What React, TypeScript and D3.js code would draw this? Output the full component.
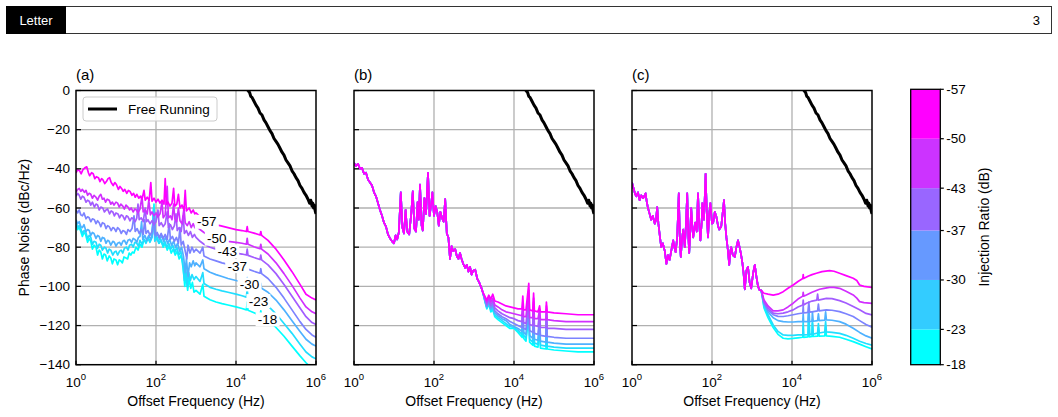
import * as d3 from 'd3';

// injection ratios (dB), drawn in this order so -57 ends on top
const ratios = [-18, -23, -30, -37, -43, -50, -57];
const cbarTicks = [-57, -50, -43, -37, -30, -23, -18];
const cbarBands = ['#00ffff', '#33ccff', '#6699ff', '#9966ff', '#cc33ff', '#ff00ff'];
const xTickExps = [0, 2, 4, 6];
const yTicks = [0, -20, -40, -60, -80, -100, -120, -140];
const yGrid = [-20, -40, -60, -80, -100, -120];
const xGridExps = [2, 4];
const panelTitles = ['(a)', '(b)', '(c)'];
// where the ratio labels sit on the (a) curves, log10(Hz)
const labelExps = [4.79, 4.56, 4.34, 4.03, 3.78, 3.52, 3.27];

// [log10(f), dBc/Hz]
const freeRunning = [[4.28,1.5],[4.3,0],[4.34,-1],[4.37,-3],[4.4,-3.5],[4.45,-5.5],[4.5,-7.5],[4.55,-9],[4.6,-11.5],[4.65,-12.5],[4.7,-15],[4.75,-16.5],[4.8,-18.5],[4.85,-20.5],[4.9,-22],[4.95,-24.5],[5.0,-26],[5.05,-27.5],[5.1,-29.5],[5.15,-31.5],[5.2,-33],[5.25,-35.5],[5.3,-37],[5.35,-38.5],[5.4,-41],[5.45,-42.5],[5.5,-44.5],[5.55,-46],[5.6,-48.5],[5.65,-50],[5.7,-52],[5.75,-53.5],[5.8,-55.5],[5.84,-57.5],[5.87,-56],[5.9,-59],[5.92,-57.5],[5.94,-60],[5.96,-58.5],[5.98,-61.5],[6.0,-63]];

// panel (a)
const a57 = [[0,-42],[0.04,-40.5],[0.09,-41],[0.13,-42.5],[0.17,-40.5],[0.22,-39.5],[0.27,-39],[0.31,-42],[0.34,-43.5],[0.39,-42],[0.43,-42.5],[0.47,-45],[0.51,-44],[0.56,-44.5],[0.6,-46.5],[0.64,-45],[0.67,-45.5],[0.72,-47.5],[0.76,-46.5],[0.8,-45],[0.84,-44.5],[0.88,-47],[0.93,-48.5],[0.97,-47],[1.01,-48],[1.06,-50.5],[1.1,-49],[1.14,-50],[1.18,-51.5],[1.22,-50.5],[1.27,-52.5],[1.31,-51],[1.35,-51.5],[1.4,-53.5],[1.44,-52.5],[1.48,-54.5],[1.52,-53],[1.57,-55],[1.61,-54],[1.65,-55.5],[1.7,-51],[1.73,-56],[1.78,-54.5],[1.83,-56],[1.87,-47],[1.9,-56.5],[1.95,-55],[2.0,-57],[2.05,-55.5],[2.1,-57.5],[2.15,-56],[2.2,-58],[2.23,-45],[2.26,-58],[2.3,-57],[2.35,-59],[2.4,-57.5],[2.44,-50],[2.47,-59],[2.52,-58],[2.56,-53],[2.6,-60],[2.65,-58.5],[2.7,-61],[2.73,-51],[2.76,-61.5],[2.83,-60],[2.88,-62.5],[2.93,-61],[2.97,-63],[3.0,-62.5],[3.1,-64.5],[3.2,-66],[3.3,-67.5],[3.45,-68.5],[3.6,-69],[3.8,-70],[4.0,-71],[4.15,-71.5],[4.26,-72],[4.28,-69.5],[4.3,-72],[4.45,-72.8],[4.6,-73.8],[4.62,-72],[4.64,-74],[4.8,-76.5],[5.0,-81],[5.2,-86.5],[5.4,-92.5],[5.6,-99],[5.75,-104],[5.9,-106],[6.0,-107]];
const a50 = [[0,-52],[0.04,-50.5],[0.08,-50],[0.12,-51.5],[0.16,-50.5],[0.21,-52],[0.25,-51],[0.29,-53.5],[0.33,-52.5],[0.37,-53],[0.41,-55],[0.45,-53.5],[0.5,-54.5],[0.54,-56],[0.58,-54],[0.62,-53],[0.66,-55.5],[0.7,-55],[0.74,-57],[0.78,-55.5],[0.83,-56],[0.87,-58],[0.91,-57],[0.95,-58.5],[1.0,-57],[1.04,-57.5],[1.08,-59.5],[1.12,-58],[1.17,-59],[1.21,-60.5],[1.25,-58.5],[1.3,-59.5],[1.34,-61],[1.38,-60],[1.43,-62],[1.47,-60.5],[1.51,-61],[1.55,-62.5],[1.6,-60.5],[1.65,-54],[1.68,-62],[1.73,-61],[1.78,-63],[1.82,-56],[1.86,-63.5],[1.9,-62],[1.95,-64],[2.0,-62.5],[2.05,-64.5],[2.1,-63],[2.15,-57],[2.18,-65],[2.23,-63.5],[2.28,-49],[2.31,-65],[2.36,-64],[2.4,-66],[2.44,-58],[2.47,-65.5],[2.52,-67],[2.56,-60],[2.6,-66.5],[2.65,-68],[2.7,-60],[2.73,-67.5],[2.78,-69],[2.83,-67],[2.88,-70],[2.93,-68],[2.97,-70],[3.0,-69],[3.1,-71],[3.2,-72.5],[3.35,-74.5],[3.5,-75.5],[3.65,-76.5],[3.8,-77],[4.0,-77.5],[4.15,-78],[4.26,-78.5],[4.28,-75.5],[4.3,-78.5],[4.45,-79.8],[4.6,-80.8],[4.62,-78.5],[4.64,-81],[4.8,-83.5],[5.0,-88],[5.2,-93.5],[5.4,-99.5],[5.6,-106],[5.75,-110.5],[5.9,-113],[6.0,-114]];
const a43 = [[0,-54],[0.04,-52.5],[0.08,-53.5],[0.12,-55.5],[0.16,-54],[0.2,-54.5],[0.25,-57],[0.29,-56],[0.33,-56.5],[0.37,-58.5],[0.41,-57],[0.46,-59.5],[0.5,-58],[0.54,-58.5],[0.58,-61],[0.62,-59.5],[0.67,-60],[0.71,-62],[0.75,-61],[0.79,-60.5],[0.84,-63],[0.88,-61.5],[0.92,-62],[0.96,-64],[1.0,-62.5],[1.05,-63],[1.09,-65],[1.13,-63.5],[1.17,-64],[1.22,-66],[1.26,-64],[1.3,-64.5],[1.35,-66.5],[1.39,-65],[1.43,-65.5],[1.48,-67],[1.52,-65],[1.55,-58],[1.58,-66],[1.63,-65],[1.68,-67],[1.73,-60],[1.76,-67],[1.8,-66],[1.85,-68],[1.9,-66.5],[1.95,-68.5],[2.0,-67],[2.05,-61],[2.08,-69],[2.13,-67.5],[2.18,-69.5],[2.23,-68],[2.28,-62],[2.31,-70],[2.36,-68.5],[2.41,-71],[2.46,-69],[2.5,-63],[2.53,-71.5],[2.58,-70],[2.63,-72],[2.68,-64],[2.71,-73],[2.76,-71.5],[2.81,-74],[2.86,-72],[2.91,-75],[2.96,-73.5],[3.0,-75],[3.1,-77],[3.2,-78.5],[3.35,-80],[3.5,-81],[3.65,-81.5],[3.8,-82.2],[4.0,-83],[4.15,-83.5],[4.26,-84],[4.28,-81],[4.3,-84.2],[4.45,-85.3],[4.6,-86.3],[4.62,-84],[4.64,-86.5],[4.8,-89],[5.0,-93.5],[5.2,-99],[5.4,-105],[5.6,-111],[5.75,-115.5],[5.9,-118.5],[6.0,-119.5]];
const a37 = [[0,-61],[0.04,-62.5],[0.08,-61],[0.12,-63.5],[0.16,-64],[0.2,-62.5],[0.25,-65.5],[0.29,-64.5],[0.33,-65],[0.37,-67],[0.41,-65.5],[0.46,-66],[0.5,-68],[0.54,-66.5],[0.58,-67.5],[0.62,-69.5],[0.66,-67.5],[0.71,-68],[0.75,-70.5],[0.79,-69],[0.83,-69.5],[0.88,-71.5],[0.92,-70],[0.96,-70.5],[1.0,-72],[1.04,-70],[1.09,-71],[1.13,-73],[1.17,-71.5],[1.22,-72],[1.26,-73.5],[1.3,-71],[1.35,-72],[1.4,-70.5],[1.45,-64],[1.48,-72],[1.53,-70.5],[1.58,-73],[1.63,-71],[1.68,-73.5],[1.72,-66],[1.75,-73],[1.8,-71.5],[1.85,-74],[1.9,-72],[1.95,-65],[1.98,-74],[2.03,-72.5],[2.08,-75],[2.13,-73],[2.18,-75.5],[2.23,-73.5],[2.28,-76],[2.33,-68],[2.36,-76],[2.41,-74.5],[2.46,-77],[2.51,-75],[2.56,-78],[2.6,-70],[2.63,-79],[2.68,-77],[2.73,-82],[2.77,-86],[2.8,-79],[2.85,-83],[2.9,-80],[2.95,-82.5],[3.0,-81],[3.1,-83],[3.17,-80],[3.2,-84.5],[3.35,-86],[3.5,-87],[3.65,-88],[3.8,-88.8],[4.0,-89.5],[4.15,-90.3],[4.26,-91],[4.28,-88],[4.3,-91.2],[4.45,-92.3],[4.6,-93.3],[4.62,-91],[4.64,-93.5],[4.8,-96],[5.0,-100.5],[5.2,-106],[5.4,-112],[5.6,-118],[5.75,-122],[5.9,-124.8],[6.0,-126]];
const a30 = [[0,-66],[0.04,-68],[0.08,-67],[0.12,-69.5],[0.16,-70],[0.2,-68.5],[0.25,-72],[0.29,-71],[0.33,-71.5],[0.37,-74],[0.41,-72.5],[0.45,-73],[0.5,-75.5],[0.54,-74],[0.58,-74.5],[0.62,-77],[0.66,-75],[0.71,-75.5],[0.75,-78],[0.79,-76.5],[0.83,-77],[0.87,-79],[0.92,-77],[0.96,-77.5],[1.0,-79.5],[1.04,-78],[1.09,-77.5],[1.13,-79],[1.17,-77],[1.21,-76.5],[1.26,-78.5],[1.3,-76.5],[1.34,-76],[1.39,-77.5],[1.43,-75.5],[1.47,-76],[1.52,-77.5],[1.56,-75],[1.6,-74.5],[1.64,-67],[1.67,-76],[1.72,-74],[1.77,-76.5],[1.82,-74],[1.87,-76],[1.92,-73],[1.96,-62],[1.99,-75],[2.04,-73.5],[2.09,-76],[2.14,-74],[2.19,-77],[2.24,-75],[2.29,-78],[2.34,-76],[2.39,-79],[2.44,-77],[2.49,-80],[2.54,-78],[2.59,-82],[2.64,-80],[2.69,-85],[2.73,-93],[2.76,-86],[2.8,-95],[2.84,-88],[2.88,-90],[2.93,-87],[2.97,-89.5],[3.0,-88],[3.1,-90],[3.17,-86.5],[3.2,-91],[3.35,-92.8],[3.5,-94],[3.65,-95],[3.8,-96],[4.0,-97],[4.15,-97.8],[4.26,-98.5],[4.28,-95.5],[4.3,-98.7],[4.45,-99.8],[4.6,-100.8],[4.62,-98.5],[4.64,-101],[4.8,-103],[5.0,-107],[5.2,-112],[5.4,-117.5],[5.6,-123],[5.75,-127],[5.9,-129.5],[6.0,-130.5]];
const a23 = [[0,-67],[0.04,-70],[0.08,-69],[0.12,-70.5],[0.16,-73],[0.2,-71.5],[0.24,-72],[0.29,-75.5],[0.33,-74],[0.37,-75],[0.41,-78.5],[0.45,-77],[0.5,-77.5],[0.54,-80.5],[0.58,-78.5],[0.62,-79],[0.66,-81.5],[0.71,-80],[0.75,-80.5],[0.79,-83],[0.83,-81],[0.87,-81.5],[0.92,-84],[0.96,-82.5],[1.0,-82],[1.04,-84],[1.09,-82],[1.13,-81.5],[1.17,-83],[1.21,-80.5],[1.26,-80],[1.3,-81.5],[1.34,-79],[1.39,-78.5],[1.43,-80],[1.47,-77.5],[1.52,-78],[1.56,-79.5],[1.6,-76.5],[1.65,-78.5],[1.7,-76],[1.75,-78],[1.8,-75.5],[1.85,-77.5],[1.9,-75],[1.94,-60],[1.97,-77],[2.02,-75.5],[2.07,-78],[2.12,-76],[2.17,-79],[2.22,-77],[2.27,-80],[2.32,-78],[2.37,-81],[2.42,-79],[2.47,-82.5],[2.52,-80],[2.57,-84],[2.62,-82],[2.67,-88],[2.71,-97],[2.74,-90],[2.78,-100],[2.82,-93],[2.86,-97],[2.9,-94],[2.95,-96.5],[3.0,-95],[3.1,-97.5],[3.17,-93],[3.2,-98.5],[3.35,-100.5],[3.5,-101.5],[3.65,-102.3],[3.8,-103],[4.0,-104],[4.15,-104.8],[4.26,-105.5],[4.28,-101.5],[4.3,-105.7],[4.45,-106.8],[4.6,-107.8],[4.62,-105.5],[4.64,-108],[4.8,-110],[5.0,-114],[5.2,-119],[5.4,-124],[5.6,-129.5],[5.75,-133.5],[5.9,-136],[6.0,-137]];
const a18 = [[0,-68],[0.04,-71],[0.08,-70],[0.12,-72],[0.16,-74.5],[0.2,-72.5],[0.24,-73.5],[0.29,-77.5],[0.33,-75.5],[0.37,-77],[0.41,-81],[0.45,-79],[0.5,-80],[0.54,-84],[0.58,-81.5],[0.62,-82.5],[0.66,-86],[0.7,-83.5],[0.74,-84],[0.78,-87],[0.83,-84.5],[0.87,-85.5],[0.91,-88.5],[0.95,-86],[1.0,-86.5],[1.04,-89],[1.08,-86.5],[1.12,-87],[1.16,-88],[1.2,-85],[1.25,-85.5],[1.29,-86],[1.33,-83],[1.37,-84],[1.41,-82.5],[1.45,-83],[1.5,-80],[1.55,-81.5],[1.6,-78.5],[1.65,-80],[1.7,-76],[1.75,-77.5],[1.8,-75],[1.85,-77],[1.9,-74.5],[1.95,-58],[1.98,-76],[2.03,-75],[2.08,-78],[2.13,-76.5],[2.18,-80],[2.23,-78],[2.28,-81.5],[2.33,-79.5],[2.38,-83],[2.43,-81],[2.48,-84],[2.53,-82],[2.58,-86],[2.63,-84],[2.68,-91],[2.72,-100],[2.75,-93],[2.79,-102],[2.83,-96],[2.87,-101],[2.91,-98],[2.95,-103],[3.0,-102],[3.1,-104],[3.17,-99],[3.2,-105],[3.35,-106.8],[3.5,-108],[3.65,-108.8],[3.8,-109.5],[4.0,-110.5],[4.15,-111.3],[4.26,-112],[4.28,-108],[4.3,-112.2],[4.45,-113.5],[4.6,-114.8],[4.62,-112.5],[4.64,-115],[4.8,-117],[5.0,-121],[5.2,-125.5],[5.4,-130.5],[5.6,-135.5],[5.75,-139],[5.9,-142],[6.0,-143]];

// panel (b): common low-offset part, then one tail per ratio
const bLow = [[0,-37],[0.05,-38.5],[0.1,-37.5],[0.15,-40],[0.2,-39.5],[0.25,-42.5],[0.3,-42],[0.35,-45.5],[0.4,-47],[0.45,-48.5],[0.5,-52],[0.55,-54],[0.6,-57.5],[0.65,-61],[0.7,-64],[0.75,-67.5],[0.8,-69.5],[0.85,-73.5],[0.9,-75.5],[0.95,-77],[1.0,-78],[1.04,-74],[1.08,-76],[1.12,-72.5],[1.17,-52],[1.21,-70],[1.25,-73],[1.29,-61],[1.33,-72],[1.38,-73.5],[1.43,-63],[1.47,-51.5],[1.51,-70.5],[1.55,-72],[1.59,-57],[1.62,-66],[1.65,-48],[1.69,-69],[1.72,-71.5],[1.76,-55],[1.8,-63],[1.85,-42],[1.89,-64],[1.93,-58],[1.96,-52],[2.0,-64],[2.04,-59],[2.08,-62],[2.12,-69],[2.16,-62],[2.2,-65],[2.24,-67],[2.28,-55.5],[2.32,-73],[2.36,-75],[2.4,-86],[2.44,-79.5],[2.48,-82],[2.53,-81],[2.57,-84.5],[2.61,-86],[2.65,-83],[2.69,-86],[2.73,-88.5],[2.78,-90.5],[2.82,-89],[2.86,-92.5],[2.9,-90],[2.94,-94],[2.98,-92],[3.03,-91.5],[3.08,-96],[3.13,-98],[3.18,-100.5],[3.22,-103]];
const b57 = [[3.27,-105],[3.32,-107],[3.37,-104.5],[3.42,-106.5],[3.47,-104],[3.52,-107.5],[3.6,-108],[3.7,-109],[3.8,-110],[3.9,-110.5],[4.0,-111],[4.1,-111.5],[4.2,-111.5],[4.22,-105],[4.24,-112],[4.3,-112],[4.37,-98.5],[4.39,-112],[4.47,-112.5],[4.49,-103.5],[4.51,-112.5],[4.6,-113],[4.64,-110],[4.66,-113],[4.8,-113],[4.81,-108],[4.83,-113],[5.0,-113.5],[5.3,-114],[5.6,-114.5],[6.0,-114.5]];
const b50 = [[3.27,-105.5],[3.32,-108],[3.37,-105.5],[3.42,-108],[3.47,-106],[3.52,-109.5],[3.6,-110.5],[3.7,-112],[3.8,-113],[3.9,-113.5],[4.0,-114],[4.1,-114.5],[4.2,-115],[4.22,-108],[4.24,-115.5],[4.3,-115.5],[4.37,-102],[4.39,-116],[4.47,-116],[4.49,-106],[4.51,-116.5],[4.6,-116.5],[4.64,-112],[4.66,-117],[4.8,-117],[4.81,-110],[4.83,-117],[5.0,-117.5],[5.3,-118],[5.6,-118],[6.0,-118]];
const b43 = [[3.27,-106],[3.32,-109],[3.37,-106.5],[3.42,-109.5],[3.47,-107.5],[3.52,-111],[3.6,-112.5],[3.7,-114],[3.8,-115],[3.9,-116],[4.0,-116.5],[4.1,-117.5],[4.2,-118],[4.22,-110],[4.24,-118.5],[4.3,-119],[4.37,-105],[4.39,-119.5],[4.47,-120],[4.49,-108],[4.51,-120],[4.6,-120.5],[4.64,-113],[4.66,-121],[4.8,-121],[4.81,-112],[4.83,-121.5],[5.0,-121.5],[5.3,-122],[5.6,-122],[6.0,-122]];
const b37 = [[3.27,-106.5],[3.32,-110],[3.37,-107.5],[3.42,-110.5],[3.47,-109],[3.52,-112.5],[3.6,-114],[3.7,-115.5],[3.8,-116.5],[3.9,-118],[4.0,-119],[4.1,-120],[4.2,-121],[4.22,-112],[4.24,-121.5],[4.3,-122],[4.37,-108],[4.39,-122.5],[4.47,-123.5],[4.49,-111],[4.51,-124],[4.6,-124.5],[4.64,-115],[4.66,-125],[4.8,-125.5],[4.81,-114],[4.83,-125.5],[5.0,-126],[5.3,-126.5],[5.6,-126.5],[6.0,-126.5]];
const b30 = [[3.27,-107],[3.32,-110.5],[3.37,-108],[3.42,-111.5],[3.47,-110],[3.52,-113.5],[3.6,-115],[3.7,-116.5],[3.8,-117.5],[3.9,-119.5],[4.0,-120.5],[4.1,-121.5],[4.2,-123],[4.22,-113],[4.24,-123.5],[4.3,-124.5],[4.37,-110],[4.39,-125],[4.47,-126.5],[4.49,-113],[4.51,-127],[4.6,-127.5],[4.64,-117],[4.66,-128],[4.8,-128.5],[4.81,-116],[4.83,-128.5],[5.0,-129],[5.3,-129.5],[5.6,-129.5],[6.0,-129.5]];
const b23 = [[3.27,-107],[3.32,-111],[3.37,-108.5],[3.42,-112],[3.47,-111],[3.52,-114.5],[3.6,-116],[3.7,-117.5],[3.8,-119],[3.9,-120.5],[4.0,-121],[4.1,-122.5],[4.2,-124.5],[4.22,-114],[4.24,-125],[4.3,-126.5],[4.37,-112],[4.39,-127],[4.47,-128.5],[4.49,-115],[4.51,-129],[4.6,-129.5],[4.64,-118],[4.66,-130],[4.8,-130.5],[4.81,-118],[4.83,-130.5],[5.0,-131],[5.3,-131.5],[5.6,-131.5],[6.0,-131.5]];
const b18 = [[3.27,-107.5],[3.32,-111.5],[3.37,-109],[3.42,-113],[3.47,-112],[3.52,-115.5],[3.6,-117],[3.7,-118.5],[3.8,-120],[3.9,-121.5],[4.0,-121.5],[4.1,-123.5],[4.2,-126],[4.22,-115],[4.24,-126.5],[4.3,-128],[4.37,-113],[4.39,-128.5],[4.47,-130],[4.49,-116],[4.51,-130.5],[4.6,-131],[4.64,-119],[4.66,-131.5],[4.8,-132],[4.81,-119],[4.83,-132],[5.0,-132.5],[5.3,-133],[5.6,-133.5],[6.0,-133.5]];

// panel (c)
const cLow = [[0,-47],[0.04,-50],[0.08,-53],[0.11,-54],[0.15,-52],[0.19,-56],[0.23,-53.5],[0.28,-55],[0.34,-52.5],[0.37,-57],[0.4,-60],[0.44,-63],[0.48,-66],[0.52,-64],[0.57,-68],[0.6,-66],[0.63,-59.5],[0.66,-68],[0.7,-75],[0.73,-80],[0.77,-78],[0.82,-82],[0.86,-88.5],[0.9,-84],[0.94,-86.5],[0.98,-82],[1.03,-76.5],[1.06,-80],[1.09,-82.5],[1.13,-75],[1.17,-52.5],[1.2,-78],[1.22,-85],[1.25,-76],[1.28,-71],[1.32,-80],[1.35,-68],[1.38,-52.5],[1.41,-75],[1.43,-83],[1.46,-70],[1.48,-60],[1.51,-70],[1.53,-75],[1.58,-67.5],[1.62,-72],[1.65,-52.5],[1.68,-68],[1.71,-76.5],[1.74,-68],[1.76,-57.5],[1.8,-66],[1.84,-42.5],[1.87,-62],[1.9,-75],[1.93,-63],[1.96,-57.5],[2.0,-68],[2.03,-67.5],[2.07,-62],[2.11,-64.5],[2.15,-69],[2.18,-71],[2.23,-69.5],[2.27,-62],[2.3,-56],[2.33,-68],[2.36,-75],[2.4,-82],[2.43,-89],[2.46,-82],[2.48,-80],[2.52,-84],[2.57,-85],[2.61,-80],[2.65,-76.5],[2.69,-80],[2.72,-83],[2.76,-88],[2.79,-93.5],[2.82,-101.5],[2.86,-92],[2.9,-90],[2.94,-98],[2.98,-101],[3.03,-93],[3.07,-89],[3.11,-95],[3.15,-100],[3.19,-102],[3.23,-102]];
const c57 = [[3.3,-103.5],[3.4,-104],[3.53,-104.5],[3.65,-104],[3.78,-102.7],[3.9,-101],[4.03,-99.3],[4.15,-97.5],[4.27,-96],[4.28,-94],[4.29,-96],[4.4,-94.8],[4.5,-94],[4.61,-93.3],[4.75,-92.5],[4.94,-92],[5.05,-92.3],[5.19,-93.3],[5.35,-94.5],[5.53,-95.9],[5.62,-97],[5.69,-99.3],[5.8,-100],[6.0,-100.6]];
const c50 = [[3.3,-107],[3.4,-110],[3.53,-112.5],[3.65,-112.5],[3.78,-112],[3.9,-110.5],[4.03,-108.6],[4.15,-106.5],[4.27,-105],[4.28,-103],[4.29,-105],[4.36,-104.4],[4.5,-103],[4.69,-101.5],[4.8,-101],[4.94,-100.5],[5.05,-100.5],[5.19,-101],[5.35,-102.5],[5.53,-104.4],[5.62,-106],[5.69,-107.8],[5.8,-108.3],[6.0,-108.7]];
const c43 = [[3.3,-108],[3.4,-111],[3.53,-113.7],[3.65,-114],[3.78,-113.7],[3.9,-113],[4.03,-112],[4.15,-110.5],[4.27,-109.5],[4.28,-107],[4.29,-109.5],[4.36,-108.6],[4.5,-107.5],[4.62,-107],[4.64,-104],[4.66,-107],[4.86,-106.1],[5.0,-106.3],[5.19,-107.3],[5.35,-108.5],[5.53,-110.3],[5.69,-112],[5.85,-113.8],[6.0,-114.6]];
const c37 = [[3.3,-108.5],[3.4,-112],[3.53,-114.5],[3.65,-115.3],[3.78,-115.4],[3.9,-115],[4.03,-114.5],[4.15,-114],[4.27,-113.6],[4.28,-110],[4.29,-113.6],[4.36,-113.4],[4.4,-113.3],[4.42,-108],[4.44,-113.2],[4.5,-113],[4.64,-112.5],[4.66,-109],[4.68,-112.5],[4.86,-112],[5.0,-112.2],[5.19,-112.9],[5.35,-114],[5.53,-115.4],[5.69,-117.5],[5.85,-119.5],[6.0,-120.8]];
const c30 = [[3.3,-109],[3.4,-113],[3.53,-116],[3.65,-117.5],[3.78,-118],[3.9,-118.2],[4.03,-118.2],[4.15,-118],[4.27,-118],[4.28,-114],[4.29,-118],[4.4,-118],[4.42,-110],[4.44,-118],[4.5,-117.8],[4.51,-113],[4.53,-117.8],[4.64,-117.5],[4.66,-114],[4.68,-117.5],[4.82,-117.2],[4.84,-113],[4.86,-117.1],[5.0,-117.3],[5.19,-118],[5.35,-119.3],[5.53,-121.4],[5.69,-123.5],[5.85,-125.3],[6.0,-126.5]];
const c23 = [[3.3,-110],[3.4,-114.5],[3.53,-119.7],[3.65,-123],[3.78,-124.8],[3.9,-125],[4.03,-125],[4.15,-124.8],[4.27,-124.8],[4.28,-118],[4.29,-124.8],[4.4,-124.6],[4.42,-112],[4.44,-124.6],[4.5,-124.4],[4.51,-117],[4.53,-124.4],[4.64,-123.8],[4.66,-119],[4.68,-123.8],[4.82,-123.3],[4.84,-118],[4.86,-123.2],[5.0,-123.5],[5.19,-124],[5.35,-125],[5.53,-126.5],[5.69,-128],[5.85,-129.2],[6.0,-130]];
const c18 = [[3.3,-111],[3.4,-116],[3.53,-121],[3.65,-124.5],[3.78,-126.5],[3.9,-126.8],[4.03,-126.6],[4.15,-126.3],[4.27,-126],[4.28,-120],[4.29,-126],[4.4,-125.8],[4.42,-114],[4.44,-125.8],[4.5,-125.6],[4.51,-119],[4.53,-125.6],[4.64,-125.4],[4.66,-121],[4.68,-125.4],[4.82,-125.3],[4.84,-120],[4.86,-125.3],[5.0,-125.5],[5.19,-126],[5.35,-127],[5.53,-128.2],[5.69,-129.5],[5.85,-130.8],[6.0,-132]];

const panelA = [a18, a23, a30, a37, a43, a50, a57];
const panelB = [b18, b23, b30, b37, b43, b50, b57].map((t) => bLow.concat(t));
const panelC = [c18, c23, c30, c37, c43, c50, c57].map((t) => cLow.concat(t));

const FONT = '"Liberation Sans", Arial, Helvetica, sans-serif';
const TOP = 90.5;
const BOTTOM = 364.7;
const PW = 240;
const lefts = [76, 354, 632];

const ratioColor = (r: number) =>
  d3.interpolateRgb('#00ffff', '#ff00ff')((r - -18) / (-57 - -18));

const yScale = d3.scaleLinear().domain([-140, 0]).range([BOTTOM, TOP]);

function valueAt(curve: number[][], e: number) {
  const i = d3.bisector((d: number[]) => d[0]).left(curve, e);
  const p1 = curve[Math.min(i, curve.length - 1)];
  const p0 = curve[Math.max(i - 1, 0)];
  if (p1[0] === p0[0]) return p1[1];
  return p0[1] + ((e - p0[0]) / (p1[0] - p0[0])) * (p1[1] - p0[1]);
}

function Panel({ idx, curves }: { idx: number; curves: number[][][] }) {
  const left = lefts[idx];
  const x = d3.scaleLog().domain([1, 1e6]).range([left, left + PW]);
  const line = d3
    .line<number[]>()
    .x((d) => x(Math.pow(10, d[0])))
    .y((d) => yScale(d[1]));
  const clipId = `clip-${idx}`;
  const cx = left + PW / 2;

  return (
    <g>
      <defs>
        <clipPath id={clipId}>
          <rect x={left} y={TOP} width={PW} height={BOTTOM - TOP} />
        </clipPath>
      </defs>
      {/* grid */}
      {yGrid.map((v) => (
        <line key={'h' + v} x1={left} x2={left + PW} y1={yScale(v)} y2={yScale(v)} stroke="#b0b0b0" strokeWidth={1.3} />
      ))}
      {xGridExps.map((e) => (
        <line key={'v' + e} x1={x(Math.pow(10, e))} x2={x(Math.pow(10, e))} y1={TOP} y2={BOTTOM} stroke="#b0b0b0" strokeWidth={1.3} />
      ))}

      <g clipPath={`url(#${clipId})`}>
        {curves.map((c, i) => (
          <path key={i} d={line(c) ?? ''} fill="none" stroke={ratioColor(ratios[i])} strokeWidth={1.7} strokeLinejoin="round" />
        ))}
        <path d={line(freeRunning) ?? ''} fill="none" stroke="#000" strokeWidth={3} strokeLinejoin="round" />
      </g>

      {/* contour-style labels on (a) */}
      {idx === 0 &&
        ratios.map((r, i) => {
          const e = labelExps[i];
          const lx = x(Math.pow(10, e));
          const ly = yScale(valueAt(curves[i], e));
          return (
            <g key={'l' + r}>
              <rect x={lx - 12} y={ly - 7} width={24} height={14} fill="#fff" />
              <text x={lx} y={ly} textAnchor="middle" dominantBaseline="central" fontSize={13.5} fontFamily={FONT}>
                {String(r)}
              </text>
            </g>
          );
        })}

      {/* ticks */}
      {yTicks.map((v) => (
        <line key={'yt' + v} x1={left} x2={left + 5} y1={yScale(v)} y2={yScale(v)} stroke="#000" strokeWidth={1.2} />
      ))}
      {xTickExps.map((e) => (
        <line key={'xt' + e} x1={x(Math.pow(10, e))} x2={x(Math.pow(10, e))} y1={BOTTOM} y2={BOTTOM - 4} stroke="#000" strokeWidth={1.2} />
      ))}
      <rect x={left} y={TOP} width={PW} height={BOTTOM - TOP} fill="none" stroke="#000" strokeWidth={1.5} />

      {idx === 0 &&
        yTicks.map((v) => (
          <text key={'yl' + v} x={left - 6} y={yScale(v)} textAnchor="end" dominantBaseline="central" fontSize={13.5} fontFamily={FONT}>
            {v === 0 ? '0' : '\u2212' + Math.abs(v)}
          </text>
        ))}
      {xTickExps.map((e) => (
        <text key={'xl' + e} x={x(Math.pow(10, e))} y={387} textAnchor="middle" fontSize={13.5} fontFamily={FONT}>
          <tspan>10</tspan>
          <tspan dy={-7} fontSize={9.5}>{e}</tspan>
        </text>
      ))}
      <text x={cx} y={406} textAnchor="middle" fontSize={14} fontFamily={FONT}>
        Offset Frequency (Hz)
      </text>
      <text x={left} y={80} fontSize={15} fontFamily={FONT}>
        {panelTitles[idx]}
      </text>

      {idx === 0 && (
        <g>
          <rect x={83} y={97} width={134} height={24} rx={3} fill="#fff" fillOpacity={0.85} stroke="#cccccc" strokeWidth={1} />
          <line x1={88} x2={117} y1={109} y2={109} stroke="#000" strokeWidth={3} />
          <text x={128} y={109} dominantBaseline="central" fontSize={13.5} fontFamily={FONT}>
            Free Running
          </text>
        </g>
      )}
    </g>
  );
}

function Colorbar() {
  const x0 = 910.7;
  const w = 29.6;
  const yc = d3.scaleLinear().domain([-57, -18]).range([89.3, 364.7]);
  const edges = cbarTicks.slice().reverse(); // -18 .. -57
  return (
    <g>
      {cbarBands.map((c, i) => (
        <rect key={c} x={x0} y={yc(edges[i + 1])} width={w} height={yc(edges[i]) - yc(edges[i + 1])} fill={c} />
      ))}
      <rect x={x0} y={yc(-57)} width={w} height={yc(-18) - yc(-57)} fill="none" stroke="#000" strokeWidth={1.3} />
      {cbarTicks.map((t) => (
        <g key={t}>
          <line x1={x0 + w} x2={x0 + w + 3.5} y1={yc(t)} y2={yc(t)} stroke="#000" strokeWidth={1.2} />
          <text x={x0 + w + 6} y={yc(t)} dominantBaseline="central" fontSize={13.5} fontFamily={FONT}>
            {String(t)}
          </text>
        </g>
      ))}
      <text transform={`translate(${x0 + w + 49},${(yc(-57) + yc(-18)) / 2}) rotate(-90)`} textAnchor="middle" fontSize={14} fontFamily={FONT}>
        Injection Ratio (dB)
      </text>
    </g>
  );
}

export default function App() {
  return (
    <div style={{ position: 'absolute', left: 0, top: 0 }}>
      <svg width={1058} height={417} style={{ display: 'block', background: '#fff' }}>
        {/* page header */}
        <rect x={6.5} y={6.5} width={1045} height={27} fill="#fff" stroke="#333" strokeWidth={1} />
        <rect x={6} y={6} width={60} height={28} fill="#000" />
        <text x={36} y={20.5} textAnchor="middle" dominantBaseline="central" fill="#fff" fontSize={13} fontFamily={FONT}>
          Letter
        </text>
        <text x={1040} y={20.5} textAnchor="end" dominantBaseline="central" fontSize={13} fontFamily={FONT}>
          3
        </text>

        <text transform={`translate(29,${(TOP + BOTTOM) / 2}) rotate(-90)`} textAnchor="middle" fontSize={14} fontFamily={FONT}>
          Phase Noise (dBc/Hz)
        </text>

        <Panel idx={0} curves={panelA} />
        <Panel idx={1} curves={panelB} />
        <Panel idx={2} curves={panelC} />
        <Colorbar />
      </svg>
    </div>
  );
}
